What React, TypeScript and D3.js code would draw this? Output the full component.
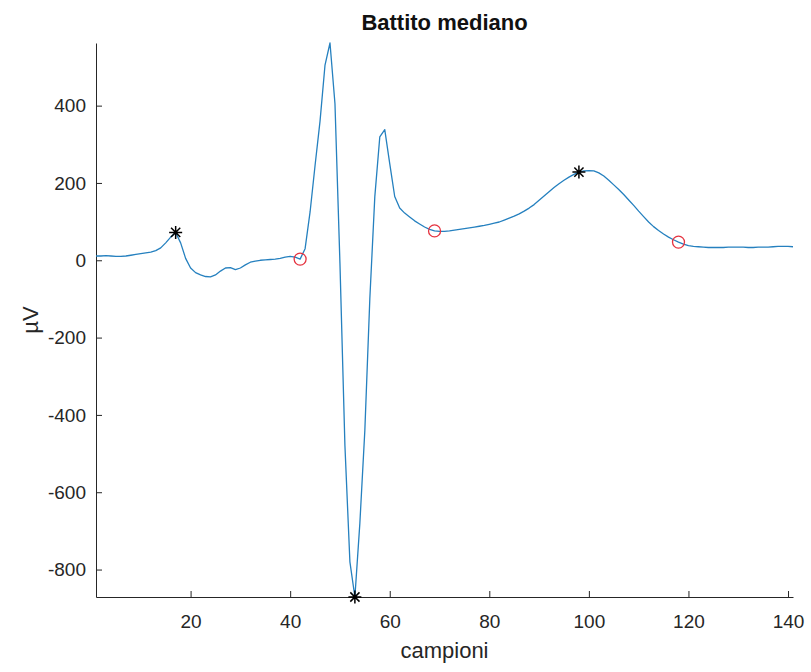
import React, { useEffect, useRef } from 'react';
import * as d3 from 'd3';

// campioni 1..141, values in µV
const values: number[] = [
  11, 11, 12, 11, 10, 10, 11, 13, 15, 17,
  19, 21, 25, 32, 45, 60, 72, 45, 5, -20,
  -32, -38, -42, -43, -38, -28, -20, -19, -24, -20,
  -12, -5, -2, 0, 1, 2, 3, 5, 8, 10,
  8, 3, 30, 125, 245, 360, 505, 562, 405, -8,
  -480, -780, -871, -680, -440, -100, 164, 319, 338, 250,
  165, 135, 122, 112, 102, 94, 86, 80, 76, 75,
  75, 76, 78, 80, 82, 84, 86, 88, 90, 93,
  96, 99, 104, 109, 114, 120, 127, 135, 144, 155,
  166, 177, 188, 198, 207, 215, 222, 228, 231, 232,
  231, 226, 218, 207, 195, 183, 170, 156, 142, 127,
  113, 99, 87, 77, 68, 60, 53, 47, 42, 38,
  36, 35, 34, 33, 33, 33, 33, 34, 34, 34,
  34, 33, 33, 34, 34, 34, 35, 36, 36, 36,
  35,
];

// sample indices of the markers
const peakSamples: number[] = [17, 53, 98];
const boundarySamples: number[] = [42, 69, 118];

const xTicks: number[] = [20, 40, 60, 80, 100, 120, 140];
const yTicks: number[] = [-800, -600, -400, -200, 0, 200, 400];

const W = 811;
const H = 672;
const margin = { top: 43, right: 18, bottom: 75, left: 96 };
const font = '"Liberation Sans", Arial, Helvetica, sans-serif';
const axisColor = '#262626';

export default function App() {
  const svgRef = useRef<SVGSVGElement>(null);

  useEffect(() => {
    const svg = d3.select(svgRef.current);
    svg.selectAll('*').remove();

    const samples = values.map((v, i) => ({ s: i + 1, v }));

    const x = d3.scaleLinear()
      .domain([1, values.length])
      .range([margin.left, W - margin.right]);

    const [yMin, yMax] = d3.extent(values) as [number, number];
    const y = d3.scaleLinear()
      .domain([yMin, yMax])
      .range([H - margin.bottom, margin.top]);

    // plain hyphen for negatives, like the original
    const fmt = (d: d3.NumberValue) => String(d);

    // x axis
    const gx = svg.append('g')
      .attr('transform', `translate(0, ${H - margin.bottom})`)
      .call(d3.axisBottom(x).tickValues(xTicks).tickFormat(fmt)
        .tickSizeInner(-6).tickSizeOuter(0).tickPadding(18));

    // y axis
    const gy = svg.append('g')
      .attr('transform', `translate(${margin.left}, 0)`)
      .call(d3.axisLeft(y).tickValues(yTicks).tickFormat(fmt)
        .tickSizeInner(-6).tickSizeOuter(0).tickPadding(10));

    [gx, gy].forEach(g => {
      g.select('.domain').attr('stroke', axisColor);
      g.selectAll('.tick line').attr('stroke', axisColor);
      g.selectAll('.tick text')
        .attr('fill', axisColor)
        .style('font-family', font)
        .style('font-size', '19px');
    });

    // signal
    const line = d3.line<{ s: number; v: number }>()
      .x(d => x(d.s))
      .y(d => y(d.v));

    svg.append('path')
      .datum(samples)
      .attr('fill', 'none')
      .attr('stroke', '#2580bf')
      .attr('stroke-width', 1.3)
      .attr('stroke-linejoin', 'round')
      .attr('d', line);

    // asterisk markers
    const r = 6.5;
    const d45 = r * Math.SQRT1_2;
    const stars = svg.append('g')
      .attr('stroke', '#000')
      .attr('stroke-width', 1.5);
    peakSamples.forEach(s => {
      const cx = x(s);
      const cy = y(values[s - 1]);
      stars.append('path')
        .attr('d', `M${cx - r},${cy}H${cx + r}M${cx},${cy - r}V${cy + r}` +
          `M${cx - d45},${cy - d45}L${cx + d45},${cy + d45}M${cx - d45},${cy + d45}L${cx + d45},${cy - d45}`);
    });

    // circle markers
    svg.append('g')
      .selectAll('circle')
      .data(boundarySamples)
      .enter()
      .append('circle')
      .attr('cx', s => x(s))
      .attr('cy', s => y(values[s - 1]))
      .attr('r', 6)
      .attr('fill', 'none')
      .attr('stroke', '#e5323f')
      .attr('stroke-width', 1.3);

    // title
    svg.append('text')
      .attr('x', (margin.left + W - margin.right) / 2)
      .attr('y', 30)
      .attr('text-anchor', 'middle')
      .style('font-family', font)
      .style('font-size', '22px')
      .style('font-weight', 'bold')
      .attr('fill', '#111')
      .text('Battito mediano');

    // x label
    svg.append('text')
      .attr('x', (margin.left + W - margin.right) / 2)
      .attr('y', 658)
      .attr('text-anchor', 'middle')
      .style('font-family', font)
      .style('font-size', '22px')
      .attr('fill', axisColor)
      .text('campioni');

    // y label
    svg.append('text')
      .attr('transform', `translate(38, ${(margin.top + H - margin.bottom) / 2}) rotate(-90)`)
      .attr('text-anchor', 'middle')
      .style('font-family', font)
      .style('font-size', '22px')
      .attr('fill', axisColor)
      .text('µV');
  }, []);

  return (
    <svg
      ref={svgRef}
      width={W}
      height={H}
      style={{ position: 'absolute', left: 0, top: 0, background: '#fff' }}
    />
  );
}
